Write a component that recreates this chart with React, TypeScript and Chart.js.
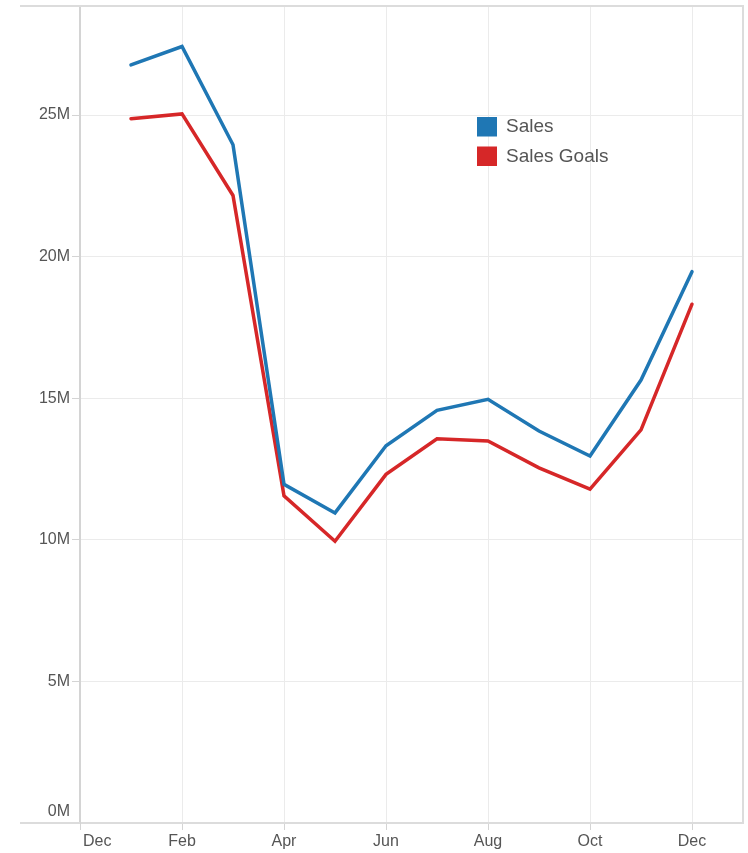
import React, { useEffect, useRef } from "react";
import { Chart, registerables } from "chart.js";

Chart.register(...registerables);

// ---- Data (values in millions) ----
const months = ["Jan", "Feb", "Mar", "Apr", "May", "Jun", "Jul", "Aug", "Sep", "Oct", "Nov", "Dec"];
const sales = [26.77, 27.42, 23.95, 11.96, 10.95, 13.32, 14.57, 14.96, 13.84, 12.96, 15.64, 19.47];
const salesGoals = [24.87, 25.04, 22.16, 11.55, 9.95, 12.31, 13.57, 13.49, 12.54, 11.79, 13.88, 18.32];
const xTickLabels = ["Dec", "Feb", "Apr", "Jun", "Aug", "Oct", "Dec"];
const yTickValues = [0, 5, 10, 15, 20, 25];
const yTickLabels = ["0M", "5M", "10M", "15M", "20M", "25M"];
const seriesNames = ["Sales", "Sales Goals"];
const seriesColors = ["#1f77b4", "#d62728"];

const FONT = "'Liberation Sans', Arial, sans-serif";
const TEXT = "#555555";
const GRID = "#ebebeb";
const AXIS = "#d4d4d4";

const framePlugin = {
  id: "tableauFrame",
  beforeDatasetsDraw(chart: any) {
    const { ctx, chartArea } = chart;
    const { left, right, top, bottom } = chartArea;
    ctx.save();
    ctx.strokeStyle = "#dcdcdc";
    ctx.lineWidth = 2;
    ctx.beginPath();
    ctx.moveTo(left - 60, top);
    ctx.lineTo(right, top);
    ctx.lineTo(right, bottom);
    ctx.stroke();
    ctx.beginPath();
    ctx.moveTo(left - 60, bottom);
    ctx.lineTo(left, bottom);
    ctx.stroke();
    ctx.restore();
  },
  afterDraw(chart: any) {
    const { ctx, chartArea } = chart;
    const xs = chart.scales.x;
    const ys = chart.scales.y;
    ctx.save();
    ctx.font = `16px ${FONT}`;
    ctx.fillStyle = TEXT;
    ctx.textBaseline = "middle";
    // x tick labels
    xs.ticks.forEach((t: any, i: number) => {
      const px = xs.getPixelForValue(t.value);
      const label = xTickLabels[i] ?? "";
      if (i === 0) {
        ctx.textAlign = "left";
        ctx.fillText(label, px + 3, chartArea.bottom + 19);
      } else {
        ctx.textAlign = "center";
        ctx.fillText(label, px, chartArea.bottom + 19);
      }
    });
    // y tick labels
    ctx.textAlign = "right";
    yTickValues.forEach((v, i) => {
      let py = ys.getPixelForValue(v);
      if (py > chartArea.bottom - 10) py = chartArea.bottom - 11;
      ctx.fillText(yTickLabels[i], chartArea.left - 10, py);
    });
    // legend
    const lx = chartArea.left + 397;
    const ly = chartArea.top + 111;
    ctx.font = `19px ${FONT}`;
    ctx.textAlign = "left";
    ctx.textBaseline = "middle";
    chart.data.datasets.forEach((ds: any, i: number) => {
      const y = ly + i * 29.5;
      ctx.fillStyle = ds.borderColor;
      ctx.fillRect(lx, y, 20, 19.5);
      ctx.fillStyle = TEXT;
      ctx.fillText(ds.label, lx + 29, y + 10);
    });
    ctx.restore();
  },
};

export default function App() {
  const canvasRef = useRef<HTMLCanvasElement | null>(null);

  useEffect(() => {
    document.body.style.margin = "0";
    const canvas = canvasRef.current;
    if (!canvas) return;
    const datasets = [sales, salesGoals].map((vals, si) => ({
      label: seriesNames[si],
      data: vals.map((v, i) => ({ x: months.indexOf(months[i]) + 1, y: v })),
      borderColor: seriesColors[si],
      backgroundColor: seriesColors[si],
      borderWidth: 3.5,
      pointRadius: 0,
      pointHoverRadius: 0,
      tension: 0,
      fill: false,
      borderCapStyle: "round" as const,
    }));

    const chart = new Chart(canvas, {
      type: "line",
      data: { datasets },
      options: {
        animation: false,
        responsive: false,
        maintainAspectRatio: false,
        layout: { padding: { top: 6, right: 5, left: 0, bottom: 0 } },
        plugins: {
          legend: { display: false },
          tooltip: { enabled: false },
        },
        scales: {
          x: {
            type: "linear",
            min: 0,
            max: 13,
            afterFit: (s: any) => {
              s.height = 30;
              s.paddingLeft = 0;
              s.paddingRight = 0;
            },
            ticks: { stepSize: 2, includeBounds: false, display: false },
            grid: { color: GRID, lineWidth: 1, drawTicks: true, tickLength: 7, tickColor: AXIS, tickWidth: 1 },
            border: { display: true, color: "#dcdcdc", width: 2 },
          },
          y: {
            type: "linear",
            min: 0,
            max: 28.85,
            afterFit: (s: any) => {
              s.width = 80;
              s.paddingTop = 0;
              s.paddingBottom = 0;
            },
            afterBuildTicks: (s: any) => {
              s.ticks = yTickValues.map((v) => ({ value: v }));
            },
            ticks: { display: false },
            grid: { color: GRID, lineWidth: 1, drawTicks: true, tickLength: 8, tickColor: AXIS, tickWidth: 1 },
            border: { display: true, color: AXIS, width: 2 },
          },
        },
      },
      plugins: [framePlugin],
    });
    return () => chart.destroy();
  }, []);

  return (
    <div style={{ width: 748, height: 853, position: "relative", background: "#fff" }}>
      <canvas ref={canvasRef} width={748} height={853} style={{ display: "block" }} />
    </div>
  );
}
